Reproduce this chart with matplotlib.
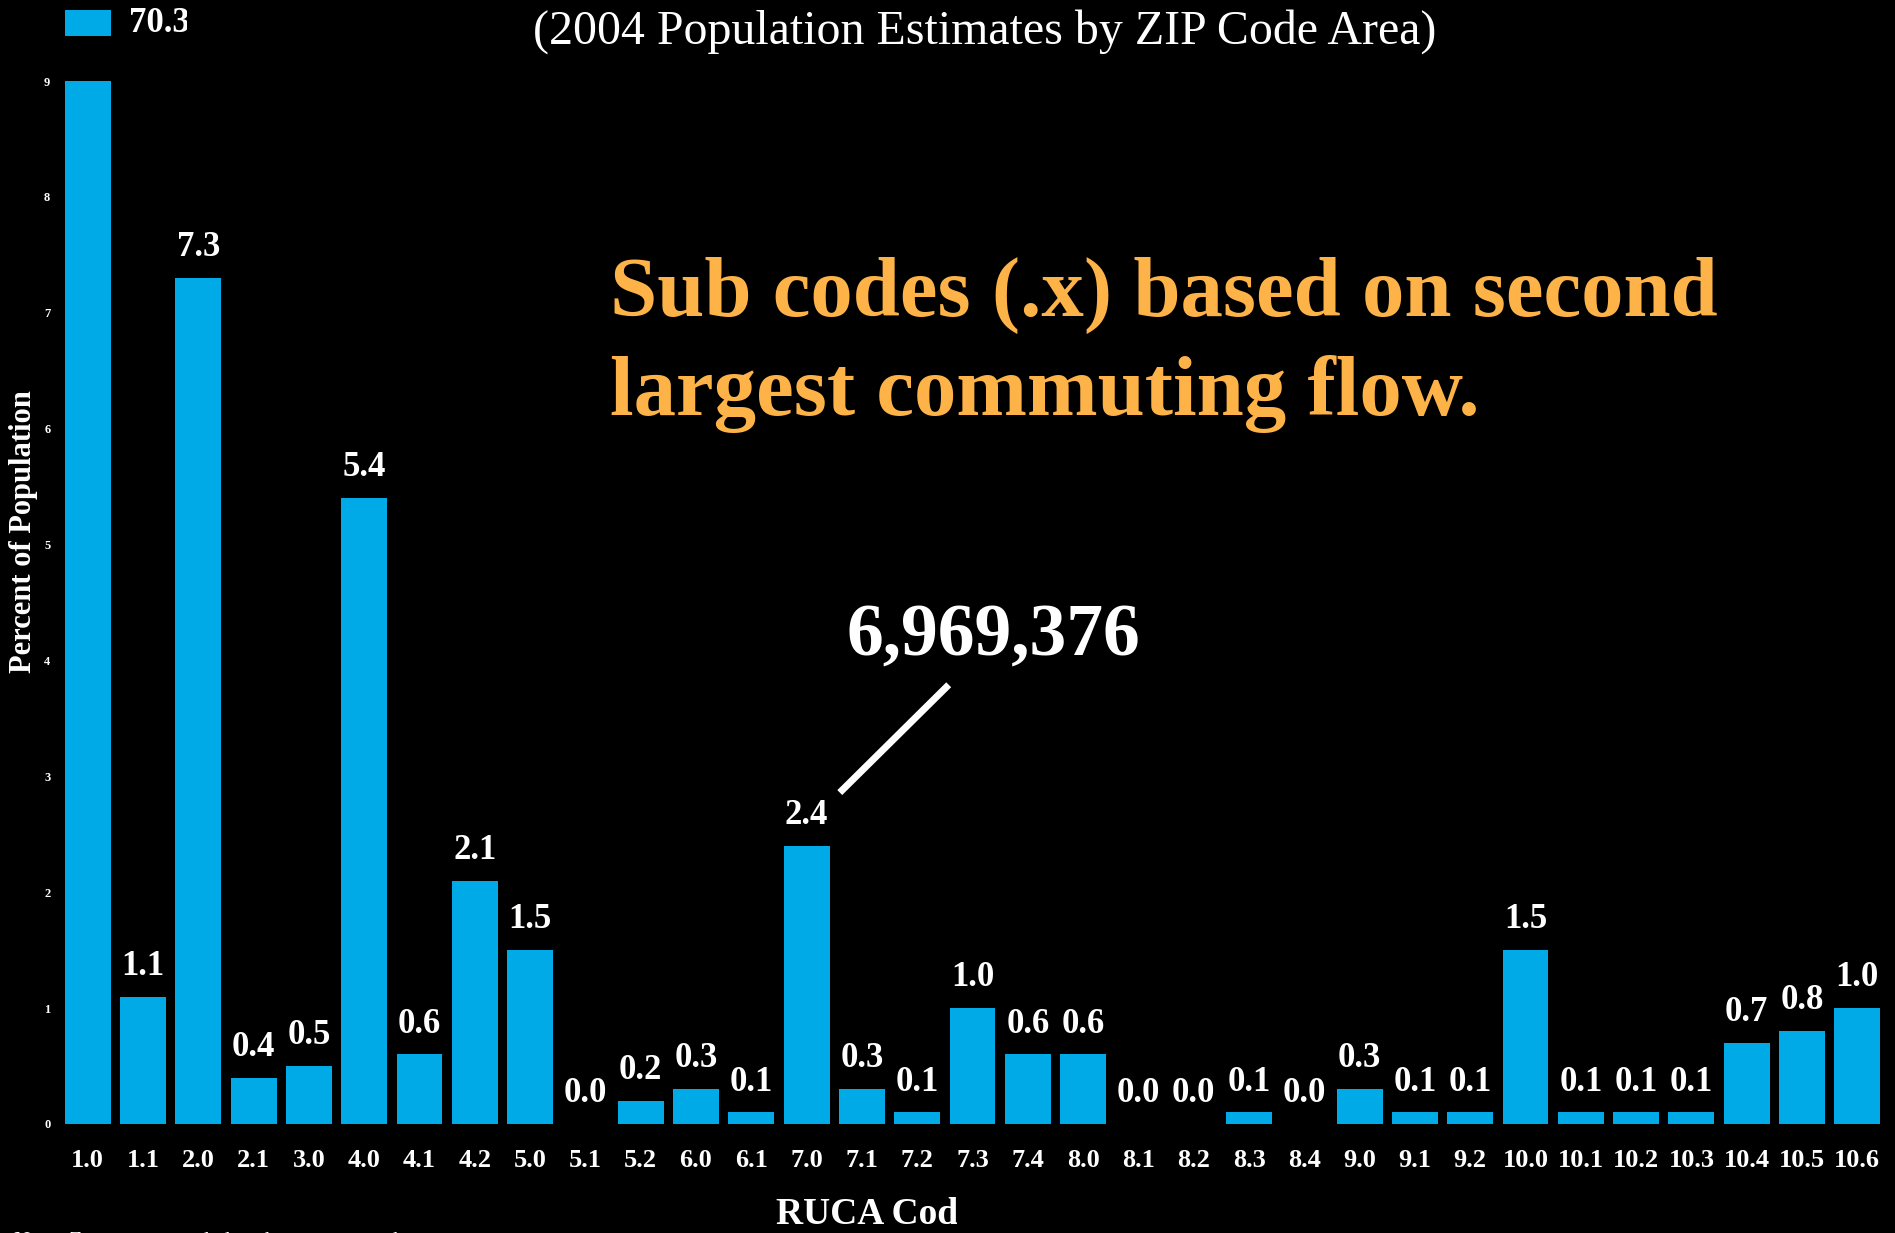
import numpy as np
import matplotlib
matplotlib.use("Agg")
import matplotlib.pyplot as plt
from matplotlib.transforms import Bbox

# RUCA codes and percent of population (2004 estimates)
codes = ["1.0", "1.1", "2.0", "2.1", "3.0", "4.0", "4.1", "4.2", "5.0", "5.1",
         "5.2", "6.0", "6.1", "7.0", "7.1", "7.2", "7.3", "7.4", "8.0", "8.1",
         "8.2", "8.3", "8.4", "9.0", "9.1", "9.2", "10.0", "10.1", "10.2", "10.3",
         "10.4", "10.5", "10.6"]
pct = [70.3, 1.1, 7.3, 0.4, 0.5, 5.4, 0.6, 2.1, 1.5, 0.0,
       0.2, 0.3, 0.1, 2.4, 0.3, 0.1, 1.0, 0.6, 0.6, 0.0,
       0.0, 0.1, 0.0, 0.3, 0.1, 0.1, 1.5, 0.1, 0.1, 0.1,
       0.7, 0.8, 1.0]
yticks = list(range(10))

callout_code = "7.0"
callout_text = "6,969,376"
subtitle = "(2004 Population Estimates by ZIP Code Area)"
note_lines = ["Sub codes (.x) based on second", "largest commuting flow."]
ylabel = "Percent of Population"
xlabel = "RUCA Code"
footnote = "Note: Zeros are rounded to the nearest tenth."

BLUE = "#00AAE6"
ORANGE = "#FDB347"

plt.rcParams["font.family"] = ["Liberation Serif", "DejaVu Serif"]
plt.rcParams["font.weight"] = "bold"

W, H = 1895, 1233
fig = plt.figure(figsize=(W / 100, H / 100), dpi=100, facecolor="black")


def px(x0, y0, x1, y1):
    """pixel box (top-left origin) -> figure fraction rect"""
    return [x0 / W, 1 - y1 / H, (x1 - x0) / W, (y1 - y0) / H]


def clip_right(artist, xmax):
    artist.set_clip_box(Bbox([[0, 0], [xmax, H]]))
    artist.set_clip_on(True)


ax = fig.add_axes(px(60, 81, 1885, 1124))
ax_top = fig.add_axes(px(60, 10, 1885, 36))   # broken-axis piece for the 1.0 bar
x = np.arange(len(codes))
for a in (ax, ax_top):
    a.set_facecolor("black")
    a.bar(x, pct, width=0.83, color=BLUE)
    a.set_xlim(-0.5, len(codes) - 0.5)
    for s in a.spines.values():
        s.set_visible(False)
ax.set_ylim(0, 9)
ax_top.set_ylim(max(pct) - 1, max(pct))
ax_top.axis("off")

# value labels
ymax = ax.get_ylim()[1]
for xi, v in zip(x, pct):
    if v > ymax:
        t = ax_top.annotate(f"{v:.1f}", (xi + 0.415, v - 0.5), xytext=(13, 0),
                            textcoords="offset points", ha="left", va="center",
                            color="white", fontsize=25)
        clip_right(t, 187)
    else:
        ax.annotate(f"{v:.1f}", (xi, v), xytext=(0, 10), textcoords="offset points",
                    ha="center", va="bottom", color="white", fontsize=25)

ax.set_xticks(x, codes)
ax.set_yticks(yticks)
ax.tick_params(axis="x", colors="white", labelsize=19, length=0, pad=18)
ax.tick_params(axis="y", colors="white", labelsize=9, length=0, pad=7)

# callout for the 7.0 bar
ci = codes.index(callout_code)
cv = pct[ci]
ax.plot([ci + 0.6, ci + 2.57], [cv + 0.46, cv + 1.39], color="white", lw=5,
        solid_capstyle="butt")
ax.text(ci + 3.38, cv + 1.81, callout_text, ha="center", va="center",
        fontsize=53, color="white")

# texts
fig.text(985 / W, 1 - 32 / H, subtitle, ha="center", va="center", color="white",
         fontsize=34.5, fontweight="normal")
for i, line in enumerate(note_lines):
    fig.text(610 / W, 1 - (295 + 99 * i) / H, line, ha="left", va="center",
             color=ORANGE, fontsize=61)
fig.text(24 / W, 1 - 532 / H, ylabel, rotation=90, ha="center", va="center",
         color="white", fontsize=22)
xl = fig.text(776 / W, 1 - 1215 / H, xlabel, ha="left", va="center",
              color="white", fontsize=27)
clip_right(xl, 957)
fig.text(14 / W, 1 - 1232 / H, footnote, ha="left", va="top", color="white",
         fontsize=16, fontweight="normal")

fig.savefig("out.png", dpi=100, facecolor="black")
